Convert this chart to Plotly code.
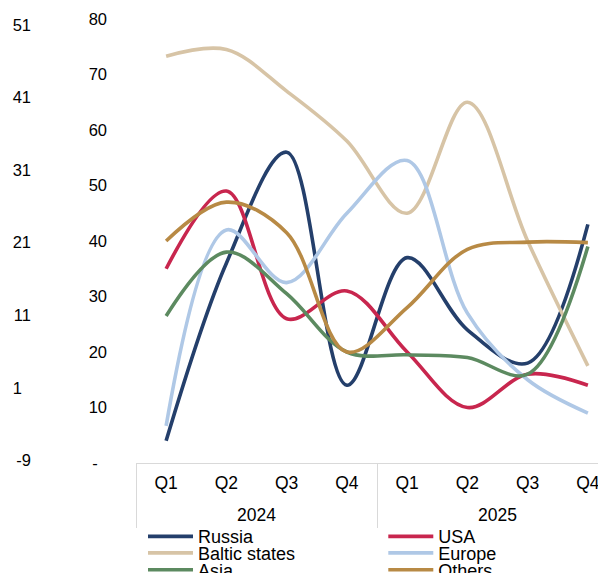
import plotly.graph_objects as go

# Quarter categories, grouped by year
quarters = ["Q1", "Q2", "Q3", "Q4", "Q1", "Q2", "Q3", "Q4"]
years = ["2024", "2025"]

# Series values, per cent
russia = [4, 36, 56, 14, 37, 24, 18, 43]
usa = [35, 49, 26, 31, 20, 10, 16, 14]
baltic = [73.3, 74.5, 67, 58, 45, 65, 40, 17.5]
europe = [6.7, 42, 32.5, 45, 54.5, 27, 15, 9]
asia = [26.5, 38, 30.5, 20, 19.5, 19, 16, 39]
others = [40, 47, 41.5, 20, 28, 38.5, 39.8, 39.7]

# Axis ticks
inner_ticks = [0, 10, 20, 30, 40, 50, 60, 70, 80]
inner_text = ["-\u2007", "10", "20", "30", "40", "50", "60", "70", "80"]
outer_ticks = [-9, 1, 11, 21, 31, 41, 51]
outer_text = ["-9", "1\u2007", "11", "21", "31", "41", "51"]

series = [
    ("Russia", russia, "#243f6b"),
    ("USA", usa, "#c8264e"),
    ("Baltic states", baltic, "#d7c4a6"),
    ("Europe", europe, "#afc8e6"),
    ("Asia", asia, "#5c8a60"),
    ("Others", others, "#b88a45"),
]

# category slots on the x scale
xpos = list(range(len(quarters)))
per_year = len(quarters) // len(years)
year_centres = [i * per_year + (per_year - 1) / 2 for i in range(len(years))]
year_edges = [i * per_year - 0.5 for i in range(len(years) + 1)]

W, H = 598, 573
TOP, BOTTOM = 19.2, 462.7
FONT = "Liberation Sans, Arial, sans-serif"
LEG_FS = 18
XRANGE = [-0.5, 7.168]
GRID_GREY = "#d9d9d9"


def px_x(p):
    return p / W


def px_y(p):
    return (BOTTOM - p) / (BOTTOM - TOP)


fig = go.Figure()

# legend slots: (left edge px, line centre px)
cols = [143, 383.3]
rows = [536, 552.5, 569.3]
legend_layouts = {}
item_h = max(LEG_FS * 1.3, 16) + 3
for i, (name, vals, color) in enumerate(series):
    key = "legend" if i == 0 else f"legend{i + 1}"
    col, row = i % 2, i // 2
    legend_layouts[key] = dict(
        x=px_x(cols[col]), xanchor="left",
        y=px_y(rows[row] - (5 + item_h / 2)), yanchor="top",
        orientation="v", bgcolor="rgba(0,0,0,0)", borderwidth=0,
        itemwidth=45, font=dict(family=FONT, size=LEG_FS, color="#000000"),
        itemclick=False, itemdoubleclick=False,
    )
    fig.add_trace(go.Scatter(
        x=xpos, y=vals, name=name, mode="lines",
        line=dict(color=color, width=3.6, shape="spline", smoothing=1.0),
        legend=key, cliponaxis=True,
    ))

# empty traces that carry the auxiliary axes
for xa, ya in (("x", "y2"), ("x2", "y"), ("x3", "y")):
    fig.add_trace(go.Scatter(
        x=[], y=[], xaxis=xa, yaxis=ya, showlegend=False,
        hoverinfo="skip", mode="lines",
    ))

fig.update_layout(
    width=W, height=H,
    margin=dict(l=0, r=0, t=TOP, b=H - BOTTOM, autoexpand=False),
    paper_bgcolor="white", plot_bgcolor="white",
    font=dict(family=FONT, color="#000000"),
    showlegend=True,
    # quarters
    xaxis=dict(
        domain=[136 / W, 1], range=XRANGE,
        tickvals=xpos, ticktext=quarters, ticklabeloverflow="allow",
        showline=True, linecolor=GRID_GREY, linewidth=1,
        showgrid=False, zeroline=False,
        ticks="outside", ticklen=4, tickcolor="rgba(0,0,0,0)",
        tickfont=dict(family=FONT, size=17.5, color="#000000"),
    ),
    # years
    xaxis2=dict(
        overlaying="x", anchor="y", side="bottom", range=XRANGE,
        tickvals=year_centres, ticktext=years, ticklabeloverflow="allow",
        showline=False, showgrid=False, zeroline=False,
        ticks="outside", ticklen=36, tickcolor="rgba(0,0,0,0)",
        tickfont=dict(family=FONT, size=17.5, color="#000000"),
    ),
    # year dividers
    xaxis3=dict(
        overlaying="x", anchor="y", side="bottom", range=XRANGE,
        tickvals=year_edges, showticklabels=False,
        showline=False, showgrid=False, zeroline=False,
        ticks="outside", ticklen=64, tickcolor=GRID_GREY, tickwidth=1,
    ),
    yaxis=dict(
        range=[0, 80], tickvals=inner_ticks, ticktext=inner_text,
        showgrid=False, zeroline=False, showline=False, ticks="",
        tickfont=dict(family=FONT, size=16.5, color="#000000"),
        ticklabelstandoff=28,
    ),
    yaxis2=dict(
        overlaying="y", anchor="free", position=31 / W, side="left",
        range=[-9.37, 51.8], tickvals=outer_ticks, ticktext=outer_text,
        showgrid=False, zeroline=False, showline=False, ticks="",
        tickfont=dict(family=FONT, size=16.5, color="#000000"),
    ),
    **legend_layouts,
)

fig.write_html("out.html")
